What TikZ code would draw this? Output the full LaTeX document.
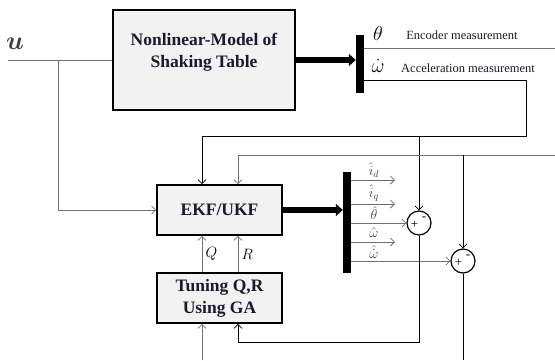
\RequirePackage{fix-cm}
\documentclass[tikz,border=0pt]{standalone}
\usepackage{amsmath,amssymb,bm}
\usepackage{fontspec}
\setmainfont{Liberation Serif}
\usepackage{xcolor}
\usetikzlibrary{arrows.meta}
\definecolor{boxgray}{HTML}{F2F2F2}
\definecolor{wire}{HTML}{707070}
\definecolor{ink}{HTML}{1A1A2E}
\definecolor{slate}{HTML}{34404F}

\begin{document}
\begin{tikzpicture}[x=1pt,y=-1pt,
    blk/.style={draw=black,line width=1.6pt,fill=boxgray,minimum width=125pt,minimum height=50pt,
      align=center,font=\fontsize{17.5}{22}\selectfont\bfseries,text=ink},
    bar/.style={fill=black,minimum width=8pt,inner sep=0pt},
    sumc/.style={circle,draw=black,line width=1.2pt,minimum size=24pt,inner sep=0pt},
    sig/.style={draw=wire,line width=0.8pt,-{Straight Barb[length=4pt,width=8pt]}},
    fat/.style={line width=5.5pt,-{Triangle[length=7pt,width=12pt]}},
    lbl/.style={font=\fontsize{12.5}{14}\selectfont,text=ink},
    est/.style={font=\fontsize{14}{14}\selectfont,text=slate,inner sep=0pt},
    sgn/.style={font=\fontsize{13}{13}\selectfont,inner sep=0pt}]
    \useasboundingbox (0,0) rectangle (555,360);
    % blocks
    \node[blk,minimum width=182pt,minimum height=100pt,text depth=20pt] (plant) at (204,60) {Nonlinear-Model of\\Shaking Table};
    \node[blk] (ekf) at (219.5,210) {EKF/UKF};
    \node[blk] (tune) at (219.5,298) {Tuning Q,R\\Using GA};
    \node[bar,minimum height=58pt] (meas) at (360,64) {};
    \node[bar,minimum height=101pt] (bus) at (347,222.5) {};
    \node[sumc] (sumA) at (419,223) {};
    \node[sumc] (sumB) at (463,261) {};
    \node[sgn] (plusA) at (414.5,225) {+};
    \node[sgn] (minA) at (424,218.5) {-};
    \node[sgn] (plusB) at (458.5,263) {+};
    \node[sgn] (minB) at (468,256.5) {-};

    % input
    \node[font=\fontsize{26}{26}\selectfont,text=slate] (u) at (15,44) {$\bm{u}$};
    \coordinate (uIn) at (8,60);
    \coordinate (uTap) at (58,60);
    \draw[wire,line width=0.8pt] (uIn) -- (plant.west);
    \draw[sig] (uTap) |- (ekf.west);
    \draw[fat] (plant.east) -- (plant.east -| meas.west);
    \draw[fat] (ekf.east) -- (ekf.east -| bus.west);

    % measurements
    \node[font=\fontsize{20}{20}\selectfont,inner sep=0pt] (th) at (378,34) {$\theta$};
    \node[font=\fontsize{20}{20}\selectfont,inner sep=0pt] (wd) at (378,66) {$\dot{\omega}$};
    \node[lbl,inner sep=0pt] (enc) at (462,35) {Encoder measurement};
    \node[lbl,inner sep=0pt] (acc) at (468,68) {Acceleration measurement};
    \coordinate (encOut) at (555,48);
    \coordinate (accEnd) at (526,80);
    \coordinate (accTurn) at (526,136);
    \coordinate (encIn) at (555,155);
    \draw[wire,line width=0.8pt] (meas.east |- encOut) -- (encOut);
    \draw[sig,draw=black] (meas.east |- accEnd) -- (accEnd) -- (accTurn) -| ([xshift=-17.5pt]ekf.north);
    \draw[sig,draw=black] (sumA |- accTurn) -- (sumA.north);
    \draw[sig] (encIn) -| ([xshift=18.5pt]ekf.north);
    \draw[sig,draw=black] (sumB |- encIn) -- (sumB.north);

    % estimates
    \foreach \yy/\nm in {180/id,204/iq,242/wh}{
      \coordinate (\nm) at (395,\yy);
      \draw[sig] (bus.east |- \nm) -- (\nm);
    }
    \draw[sig] (bus.east |- sumA) -- (sumA.west);
    \draw[sig] (bus.east |- sumB) -- (sumB.west);
    \node[est] (lid) at (374,170) {$\hat{i}_d$};
    \node[est] (liq) at (374,193) {$\hat{i}_q$};
    \node[est] (lth) at (374,213) {$\hat{\theta}$};
    \node[est] (lwh) at (374,233) {$\hat{\omega}$};
    \node[est] (lwd) at (374,252) {$\hat{\dot{\omega}}$};

    % tuning loop
    \coordinate (fbB) at (238,342);
    \coordinate (gaIn) at (202,360);
    \coordinate (errOut) at (463,360);
    \draw[sig,draw=black] (sumA.south) |- (fbB) -- ([xshift=18.5pt]tune.south);
    \draw[sig] (gaIn) -- ([xshift=-17.5pt]tune.south);
    \draw[black,line width=0.8pt] (sumB.south) -- (errOut);
    \draw[sig] ([xshift=-17.5pt]tune.north) -- ([xshift=-17.5pt]ekf.south)
      node[midway,right,font=\fontsize{15}{15}\selectfont] (q) {$Q$};
    \draw[sig] ([xshift=18.5pt]tune.north) -- ([xshift=18.5pt]ekf.south)
      node[midway,right,font=\fontsize{15}{15}\selectfont] (r) {$R$};
  \end{tikzpicture}
\end{document}
